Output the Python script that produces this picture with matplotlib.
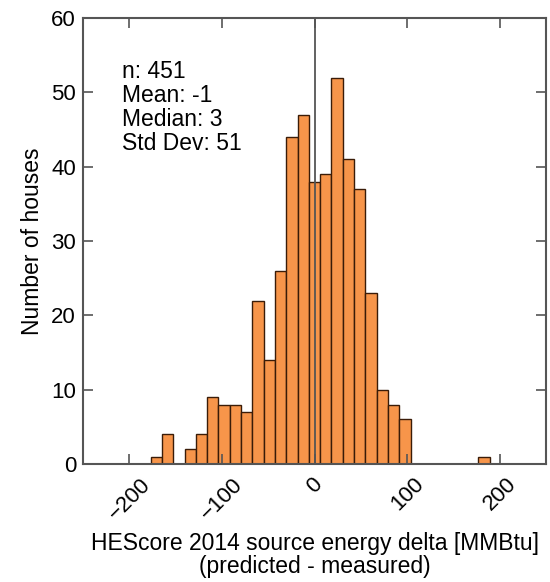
import numpy as np
import matplotlib
matplotlib.use("Agg")
import matplotlib.pyplot as plt

plt.rcParams["font.family"] = ["Liberation Sans", "DejaVu Sans"]

# histogram of predicted - measured source energy (30 bins between min and max)
bin_lo = -177.0
bin_hi = 189.0
counts = [1, 4, 0, 2, 4, 9, 8, 8, 7, 22, 14, 26, 44, 47, 38,
          39, 52, 41, 37, 23, 10, 8, 6, 0, 0, 0, 0, 0, 0, 1]
stats_lines = ["n: 451", "Mean: -1", "Median: 3", "Std Dev: 51"]
x_ticks = [-200, -100, 0, 100, 200]
y_ticks = [0, 10, 20, 30, 40, 50, 60]

edges = np.linspace(bin_lo, bin_hi, len(counts) + 1)
centers = (edges[:-1] + edges[1:]) / 2

fig = plt.figure(figsize=(5.5, 5.82), dpi=100)
ax = fig.add_axes([0.151, 0.2027, 0.842, 0.7663])

ax.hist(centers, bins=edges, weights=counts, color="#F7954A",
        edgecolor="#3a1c08", linewidth=1.0)
# zero reference line
ax.axvline(0, color="#555555", linewidth=1.3, zorder=5)

ax.set_xlim(-250, 250)
ax.set_ylim(0, 60)
ax.set_xticks(x_ticks)
ax.set_yticks(y_ticks)
ax.set_xticklabels([str(t).replace("-", "\u2212") for t in x_ticks],
                   rotation=45, ha="center")
ax.tick_params(direction="in", length=7, width=1.2, color="#555555",
               top=True, right=True, labelsize=16, pad=5)
ax.tick_params(axis="x", pad=7)
for s in ax.spines.values():
    s.set_color("#555555")
    s.set_linewidth(1.5)

ax.set_ylabel("Number of houses", fontsize=16.5, labelpad=5)
ax.set_xlabel("HEScore 2014 source energy delta [MMBtu]\n(predicted - measured)",
              fontsize=16.5, linespacing=1.0, labelpad=6)

ax.text(0.085, 0.905, "\n".join(stats_lines), transform=ax.transAxes,
        fontsize=16.5, va="top", ha="left", linespacing=1.05)

fig.savefig("out.png", dpi=100)
